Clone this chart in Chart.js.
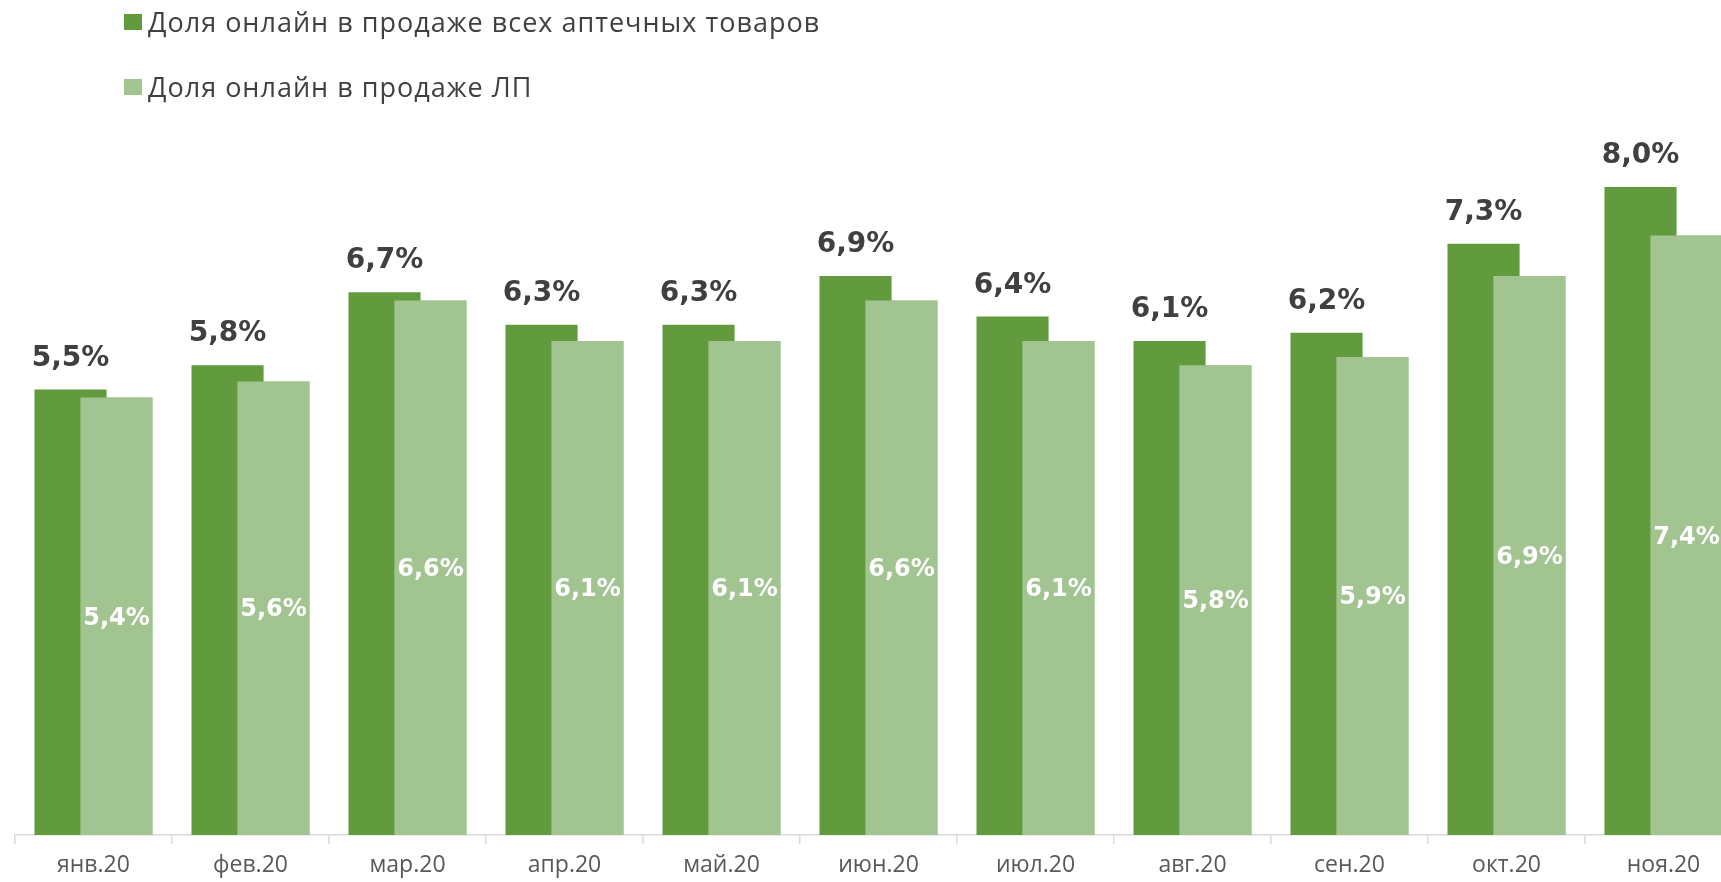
<!DOCTYPE html>
<html>
<head>
<meta charset="utf-8">
<script src="https://cdn.jsdelivr.net/npm/chart.js@4.4.1/dist/chart.umd.min.js"></script>
<style>
  html, body { margin: 0; padding: 0; background: #ffffff; overflow: hidden; }
  #wrap { position: relative; width: 1742px; height: 882px; }
  #legend { position: absolute; left: 124px; top: 0; font-family: 'Open Sans', sans-serif; color: #404040; }
  .li { position: absolute; left: 0; white-space: nowrap; display: flex; align-items: center; letter-spacing: 1px; }
  .sw { width: 18px; height: 16px; margin-right: 6px; flex: none; }
</style>
</head>
<body>
<div id="wrap">
  <canvas id="c"></canvas>
  <div id="legend"></div>
</div>
<script>
const categories = ['янв.20', 'фев.20', 'мар.20', 'апр.20', 'май.20', 'июн.20', 'июл.20', 'авг.20', 'сен.20', 'окт.20', 'ноя.20'];
const seriesNames = ['Доля онлайн в продаже всех аптечных товаров', 'Доля онлайн в продаже ЛП'];
const shareAllGoods = [5.5, 5.8, 6.7, 6.3, 6.3, 6.9, 6.4, 6.1, 6.2, 7.3, 8.0];
const shareDrugs = [5.4, 5.6, 6.6, 6.1, 6.1, 6.6, 6.1, 5.8, 5.9, 6.9, 7.4];
const seriesColors = ['#619b3e', '#a2c491'];

function fmt(v) { return v.toFixed(1).replace('.', ',') + '%'; }

// legend (HTML, stacked vertically)
const legend = document.getElementById('legend');
const legendTops = [3, 68];
seriesNames.forEach((name, i) => {
  const d = document.createElement('div');
  d.className = 'li';
  d.style.top = legendTops[i] + 'px';
  d.style.fontSize = '27px';
  d.innerHTML = '<span class="sw" style="background:' + seriesColors[i] + '"></span><span>' + name + '</span>';
  legend.appendChild(d);
});

const labelPlugin = {
  id: 'valueLabels',
  afterDatasetsDraw(chart) {
    const ctx = chart.ctx;
    // light series sits in front of the dark one (overlapping clustered bars)
    chart.getDatasetMeta(1).controller.draw();
    ctx.save();
    ctx.textAlign = 'center';
    chart.data.datasets.forEach((ds, di) => {
      const meta = chart.getDatasetMeta(di);
      meta.data.forEach((bar, i) => {
        const v = ds.data[i];
        if (di === 0) {
          ctx.font = 'bold 28px "DejaVu Sans"';
          ctx.fillStyle = '#404040';
          ctx.textBaseline = 'alphabetic';
          ctx.fillText(fmt(v), bar.x, bar.y - 24);
        } else {
          ctx.font = 'bold 24px "DejaVu Sans"';
          ctx.fillStyle = '#ffffff';
          ctx.textBaseline = 'middle';
          ctx.fillText(fmt(v), bar.x, (bar.y + bar.base) / 2 + 2);
        }
      });
    });
    ctx.restore();
  }
};

new Chart(document.getElementById('c'), {
  type: 'bar',
  data: {
    labels: categories,
    datasets: [
      { label: seriesNames[0], data: shareAllGoods, backgroundColor: seriesColors[0], categoryPercentage: 0.585, barPercentage: 1.57 },
      { label: seriesNames[1], data: shareDrugs, backgroundColor: seriesColors[1], categoryPercentage: 0.585, barPercentage: 1.57 }
    ]
  },
  options: {
    responsive: true,
    maintainAspectRatio: false,
    animation: false,
    layout: { padding: { left: 15, right: 0, top: 106, bottom: 0 } },
    plugins: { legend: { display: false }, tooltip: { enabled: false } },
    scales: {
      x: {
        grid: { display: true, drawOnChartArea: false, color: '#d9d9d9', tickLength: 9, lineWidth: 1.5 },
        border: { display: true, color: '#d9d9d9', width: 1.5 },
        ticks: { color: '#595959', font: { family: 'Open Sans', size: 23 }, padding: 8 },
        afterFit(scale) { scale.height = 47; }
      },
      y: { display: false, min: 0, max: 9 }
    }
  },
  plugins: [labelPlugin]
});
</script>
</body>
</html>
